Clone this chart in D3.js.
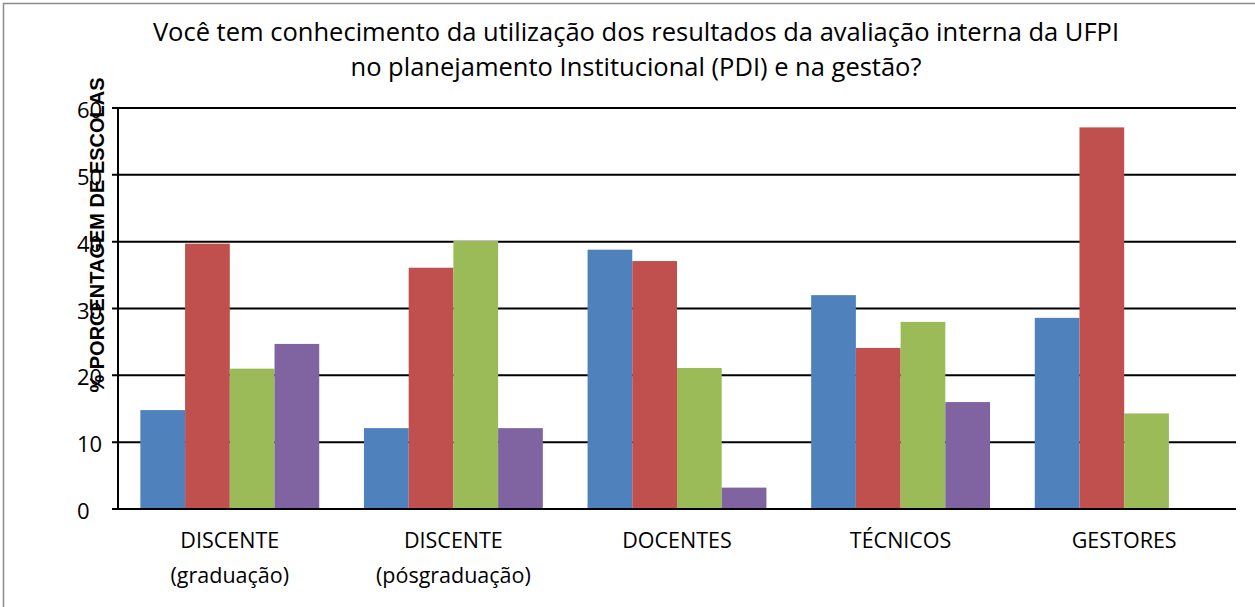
<!DOCTYPE html>
<html>
<head>
<meta charset="utf-8">
<script src="https://cdn.jsdelivr.net/npm/d3@7"></script>
<style>
  body { margin: 0; background: #fff; }
  svg { display: block; }
</style>
</head>
<body>
<svg width="1255" height="607"></svg>
<script>
let categories = [
  ['DISCENTE', '(graduação)'],
  ['DISCENTE', '(pósgraduação)'],
  ['DOCENTES'],
  ['TÉCNICOS'],
  ['GESTORES']
];
let series = ['s1', 's2', 's3', 's4'];
let colors = ['#4F81BD', '#C0504D', '#9BBB59', '#8064A2'];
let s1 = [14.8, 12.1, 38.8, 32.0, 28.6];
let s2 = [39.7, 36.1, 37.1, 24.1, 57.1];
let s3 = [21.0, 40.1, 21.1, 28.0, 14.3];
let s4 = [24.7, 12.1, 3.2, 16.0, 0];
let yTicks = [0, 10, 20, 30, 40, 50, 60];
let titleLines = [
  'Você tem conhecimento da utilização dos resultados da avaliação interna da UFPI',
  'no planejamento Institucional (PDI) e na gestão?'
];
let yTitle = '% PORCENTAGEM DE ESCOLAS';

let values = [s1, s2, s3, s4];
let svg = d3.select('svg');

let plotLeft = 118, plotRight = 1236, plotTop = 108, plotBottom = 509;

// frame
svg.append('rect')
  .attr('x', 3.5).attr('y', 3.5)
  .attr('width', 1255).attr('height', 610)
  .attr('fill', 'none')
  .attr('stroke', '#8c8c8c')
  .attr('stroke-width', 1.5);

let x = d3.scaleBand()
  .domain(d3.range(categories.length))
  .range([plotLeft, plotRight])
  .paddingInner(0.2)
  .paddingOuter(0.1);

let xs = d3.scaleBand()
  .domain(series)
  .range([0, x.bandwidth()]);

let y = d3.scaleLinear().domain([0, 60]).range([plotBottom, plotTop]);

// gridlines
svg.append('g')
  .selectAll('line')
  .data(yTicks)
  .join('line')
  .attr('x1', plotLeft - 6)
  .attr('x2', plotRight)
  .attr('y1', d => y(d))
  .attr('y2', d => y(d))
  .attr('stroke', '#000')
  .attr('stroke-width', 2);

// bars
let groups = svg.append('g')
  .selectAll('g')
  .data(categories)
  .join('g')
  .attr('transform', (d, i) => 'translate(' + x(i) + ',0)');

groups.selectAll('rect')
  .data((d, i) => series.map((s, j) => ({ s: s, j: j, v: values[j][i] })))
  .join('rect')
  .attr('x', d => xs(d.s))
  .attr('width', xs.bandwidth())
  .attr('y', d => y(d.v))
  .attr('height', d => plotBottom - y(d.v))
  .attr('fill', d => colors[d.j]);

// axes
svg.append('line')
  .attr('x1', plotLeft).attr('x2', plotLeft)
  .attr('y1', plotTop).attr('y2', plotBottom)
  .attr('stroke', '#000').attr('stroke-width', 2);
svg.append('line')
  .attr('x1', plotLeft - 6).attr('x2', plotRight)
  .attr('y1', plotBottom).attr('y2', plotBottom)
  .attr('stroke', '#000').attr('stroke-width', 2);

// y tick labels (left aligned, as in the original)
svg.append('g')
  .selectAll('text')
  .data(yTicks)
  .join('text')
  .attr('x', 77)
  .attr('y', d => y(d) + 10)
  .attr('text-anchor', 'start')
  .style('font-family', 'Open Sans, sans-serif')
  .style('font-size', '22px')
  .text(d => d);

// category labels
let catLabels = svg.append('g')
  .selectAll('text')
  .data(categories)
  .join('text')
  .attr('text-anchor', 'middle')
  .attr('x', (d, i) => x(i) + x.bandwidth() / 2)
  .attr('y', 548)
  .style('font-family', 'Open Sans, sans-serif')
  .style('font-size', '21.5px');
catLabels.selectAll('tspan')
  .data(d => d)
  .join('tspan')
  .attr('x', function() { return d3.select(this.parentNode).attr('x'); })
  .attr('dy', (d, i) => i === 0 ? 0 : 35)
  .text(d => d);

// title
svg.append('g')
  .selectAll('text')
  .data(titleLines)
  .join('text')
  .attr('x', 636)
  .attr('y', (d, i) => 41 + i * 35)
  .attr('text-anchor', 'middle')
  .style('font-family', 'Open Sans, sans-serif')
  .style('font-size', '25.5px')
  .text(d => d);

// y title
svg.append('text')
  .attr('transform', 'translate(104,235) rotate(-90)')
  .attr('text-anchor', 'middle')
  .style('font-family', 'Liberation Sans, Arial, sans-serif')
  .style('font-weight', 'bold')
  .style('font-size', '20px')
  .text(yTitle);
</script>
</body>
</html>
